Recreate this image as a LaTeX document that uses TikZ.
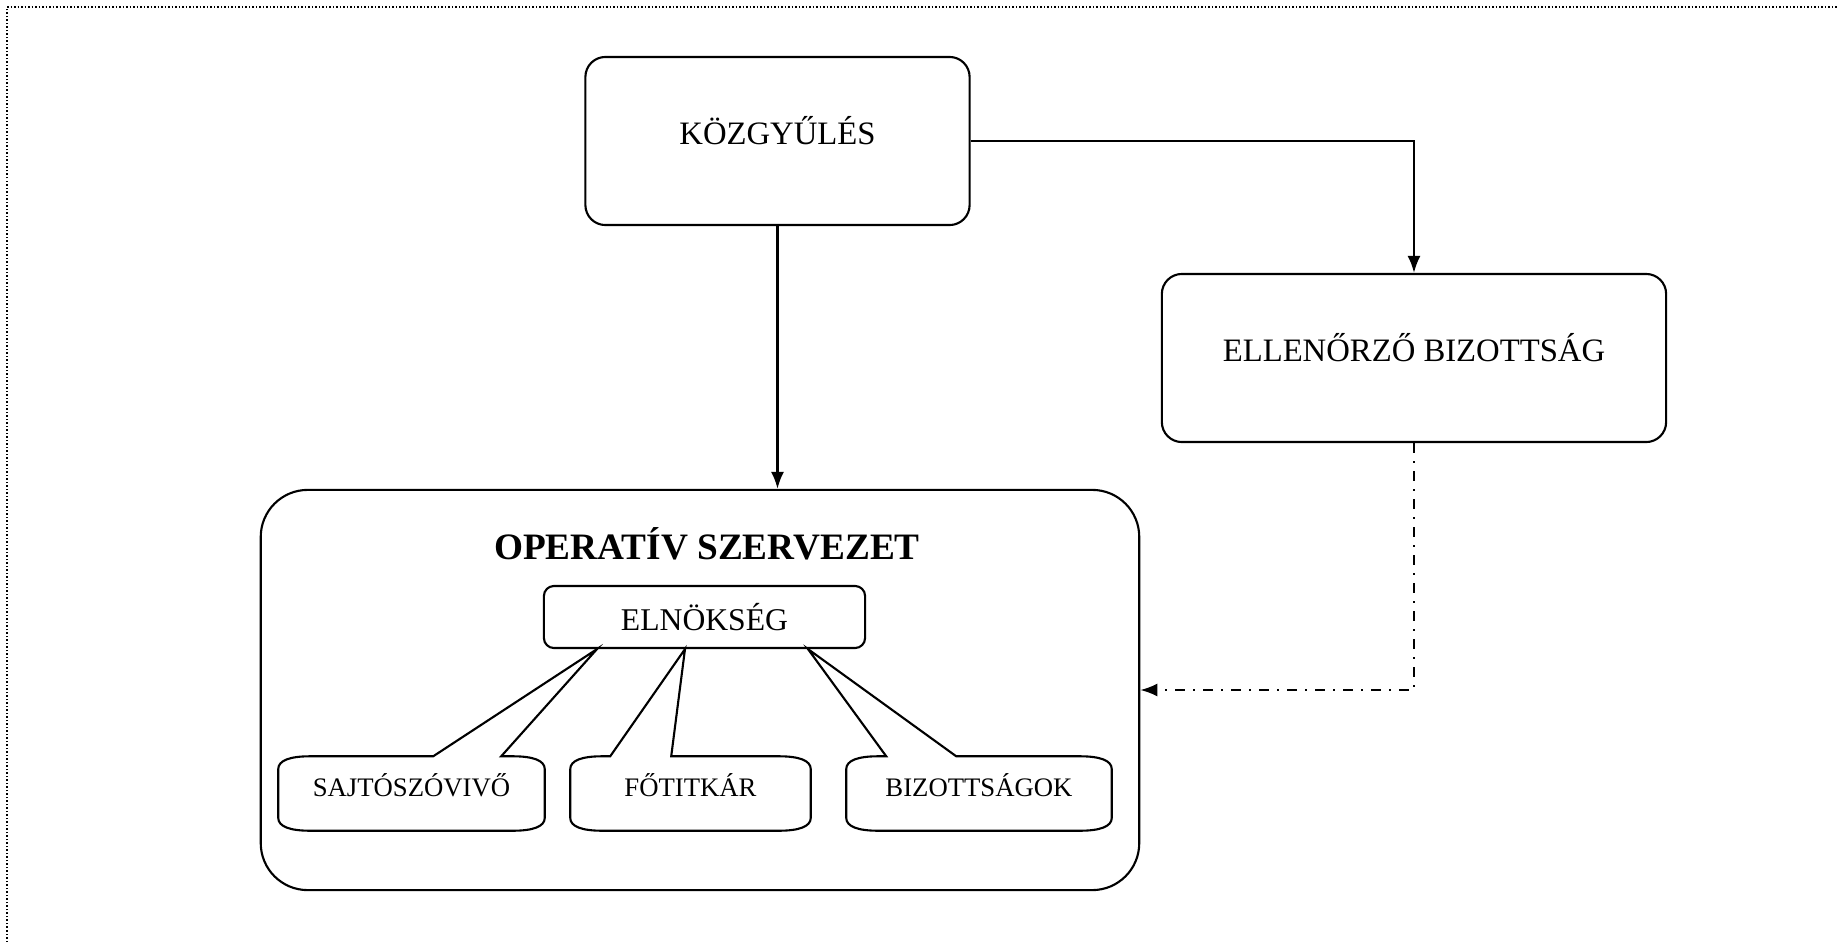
\documentclass[tikz,border=0pt]{standalone}
\usepackage{fontspec}
\setmainfont{Liberation Serif}
\usetikzlibrary{positioning}
\usetikzlibrary{calc}
\usetikzlibrary{arrows.meta}
\newcommand{\drawCallout}[4]{%
  \draw[calloutline] ($(#1.north west)+(0,13)$)
    .. controls ($(#1.north west)+(0,4)$) and ($(#1.north west)+(12,0)$) .. ($(#1.north west)+(32,0)$)
    -- ($(#1.north west)+(#2,0)$) -- ($(elnok.south)+(#4,0)$) -- ($(#1.north west)+(#3,0)$)
    -- ($(#1.north east)+(-32,0)$)
    .. controls ($(#1.north east)+(-12,0)$) and ($(#1.north east)+(0,4)$) .. ($(#1.north east)+(0,13)$)
    -- ($(#1.south east)+(0,-13)$)
    .. controls ($(#1.south east)+(0,-4)$) and ($(#1.south east)+(-12,0)$) .. ($(#1.south east)+(-32,0)$)
    -- ($(#1.south west)+(32,0)$)
    .. controls ($(#1.south west)+(12,0)$) and ($(#1.south west)+(0,-4)$) .. ($(#1.south west)+(0,-13)$)
    -- cycle;}

\begin{document}
\begin{tikzpicture}[x=0.01cm,y=-0.01cm,
    mainbox/.style={draw,line width=0.6pt,rounded corners=0.2cm,font=\fontsize{9.3}{11}\selectfont},
    bigbox/.style={mainbox,text height=0.22cm,text depth=0.16cm},
    callbox/.style={minimum height=0.73cm,text height=0.19cm,text depth=0.14cm,font=\fontsize{7.6}{9}\selectfont},
    calloutline/.style={line width=0.6pt},
    arrowline/.style={line width=0.6pt,-{Latex[length=0.17cm,width=0.13cm]}},
    dashdotline/.style={arrowline,dash pattern=on 0.1cm off 0.08cm on 0.02cm off 0.08cm}]
        \useasboundingbox (0,0) rectangle (1838,942);
        \draw [line width=0.45pt,dash pattern=on 0.015cm off 0.02cm] (7,942) -- (7,7) -- (1838,7);
        \node[bigbox,minimum width=3.84cm,minimum height=1.68cm] (kozgy) at (777.5,141){KÖZGYŰLÉS};
        \node[bigbox,minimum width=5.04cm,minimum height=1.68cm] (ellen) at (1414,358){ELLENŐRZŐ BIZOTTSÁG};
        \node[mainbox,rounded corners=0.47cm,minimum width=8.78cm,minimum height=4cm] (oper) at (700,690){};
        \node[font=\fontsize{10.6}{13}\selectfont\bfseries] (title) at (707,544){OPERATÍV SZERVEZET};
        \node[mainbox,rounded corners=0.1cm,minimum width=3.21cm,minimum height=0.62cm,font=\fontsize{9}{11}\selectfont] (elnok) at (704.5,617){ELNÖKSÉG};
        \node[callbox,minimum width=2.65cm] (sajto) at (411.5,793.5){SAJTÓSZÓVIVŐ};
        \node[callbox,minimum width=2.39cm] (fotit) at (690.5,793.5){FŐTITKÁR};
        \node[callbox,minimum width=2.64cm] (bizot) at (979,793.5){BIZOTTSÁGOK};
        \drawCallout{sajto}{155}{223}{-107.5}
        \drawCallout{fotit}{40}{101}{-19.5}
        \drawCallout{bizot}{40}{110}{103.5}
        \draw [arrowline] (kozgy.east) -| (ellen.north);
        \draw [arrowline] (kozgy.south) -- (kozgy.south |- oper.north);
        \draw [dashdotline] (ellen.south) |- (oper.east);
      \end{tikzpicture}
\end{document}
